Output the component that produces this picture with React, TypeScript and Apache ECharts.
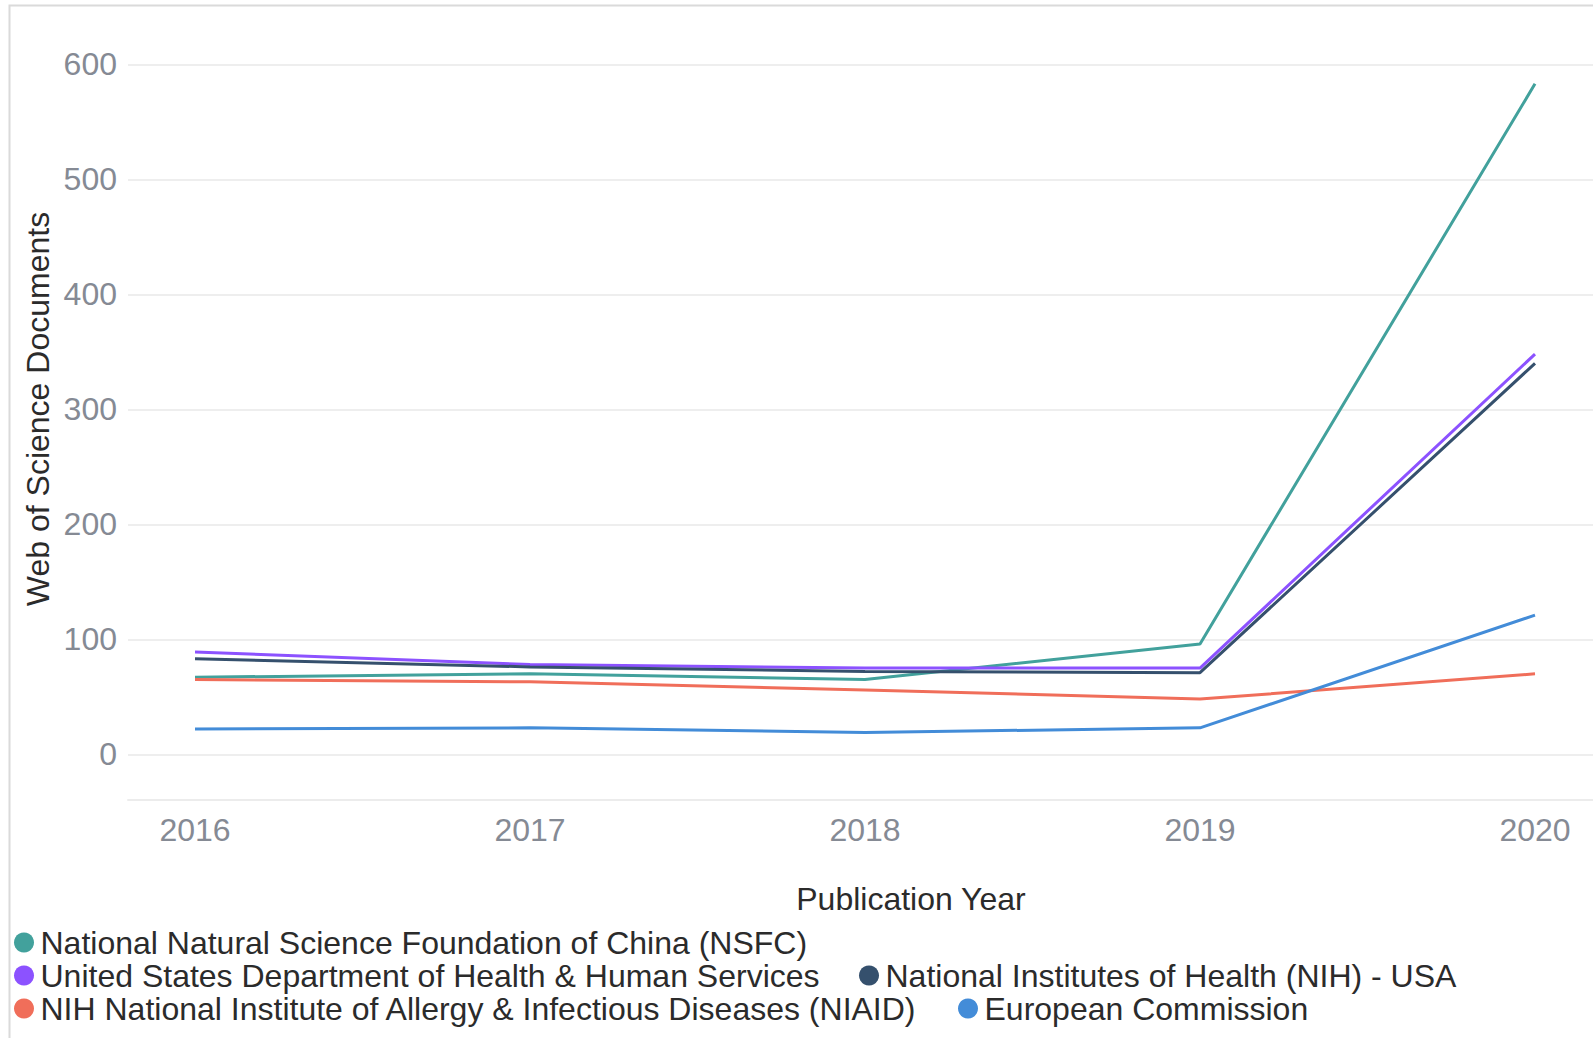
import React, { useEffect, useRef } from "react";
import * as echarts from "echarts";

const YEARS = [2016, 2017, 2018, 2019, 2020];
const NSFC = [67, 70, 65, 96, 583];
const HHS = [89, 78, 75, 75, 348];
const NIH = [83, 76, 72, 71, 340];
const NIAID = [65, 63, 56, 48, 70];
const EC = [22, 23, 19, 23, 121];
const Y_MIN = 0;
const Y_MAX = 600;
const Y_STEP = 100;

const SERIES_NAMES = [
  "National Natural Science Foundation of China (NSFC)",
  "United States Department of Health & Human Services",
  "National Institutes of Health (NIH) - USA",
  "NIH National Institute of Allergy & Infectious Diseases (NIAID)",
  "European Commission",
];
const SERIES_VALUES = [NSFC, HHS, NIH, NIAID, EC];
const COLORS = ["#42a19c", "#8c52ff", "#35506d", "#f06e5a", "#438cd8"];

const FONT = "'Liberation Sans', Arial, Helvetica, sans-serif";
const CHART_W = 1660;
const CHART_H = 1038;

// legend layout: [left, top] per series
const LEGEND_POS: [number, number][] = [
  [14, 926.5],
  [14, 959.5],
  [859, 959.5],
  [14, 992.5],
  [958, 992.5],
];

export default function App() {
  const ref = useRef<HTMLDivElement>(null);
  useEffect(() => {
    if (!ref.current) return;
    const chart = echarts.init(ref.current, undefined, { renderer: "svg" });
    const option: any = {
      animation: false,
      textStyle: { fontFamily: FONT },
      grid: { left: 128, right: CHART_W - 1602, top: 64.3, bottom: CHART_H - 754.3, containLabel: false },
      xAxis: {
        type: "value",
        min: 2015.8,
        max: 2020.2,
        offset: 45,
        axisLine: { show: true, onZero: false, lineStyle: { color: "#ececec", width: 2 } },
        axisTick: { show: false },
        splitLine: { show: false },
        axisLabel: {
          margin: 15,
          fontSize: 32,
          color: "#858a94",
          fontFamily: FONT,
          formatter: (v: number) => (Math.abs(v - Math.round(v)) < 1e-6 ? String(Math.round(v)) : ""),
        },
      },
      yAxis: {
        type: "value",
        min: Y_MIN,
        max: Y_MAX,
        interval: Y_STEP,
        axisLine: { show: false },
        axisTick: { show: false },
        splitLine: { show: true, lineStyle: { color: "#eeeeee", width: 2 } },
        axisLabel: { margin: 11, fontSize: 32, color: "#858a94", fontFamily: FONT },
      },
      legend: SERIES_NAMES.map((name, i) => ({
        data: [name],
        left: LEGEND_POS[i][0],
        top: LEGEND_POS[i][1],
        padding: 0,
        icon: "circle",
        itemWidth: 23,
        itemHeight: 20,
        selectedMode: false,
        textStyle: { fontSize: 32, lineHeight: 30, color: "#2b2b2b", fontFamily: FONT },
      })),
      graphic: [
        {
          type: "rect",
          shape: { x: 9.5, y: 5.5, width: 2000, height: 2000 },
          style: { fill: "none", stroke: "#dadada", lineWidth: 2 },
          silent: true,
        },
        {
          type: "text",
          x: 911,
          y: 898.5,
          style: {
            text: "Publication Year",
            fontSize: 32,
            fontFamily: FONT,
            fill: "#2b2b2b",
            textAlign: "center",
            textVerticalAlign: "middle",
          },
        },
        {
          type: "text",
          x: 38,
          y: 409,
          rotation: Math.PI / 2,
          style: {
            text: "Web of Science Documents",
            fontSize: 32,
            fontFamily: FONT,
            fill: "#2b2b2b",
            textAlign: "center",
            textVerticalAlign: "middle",
          },
        },
      ],
      series: SERIES_NAMES.map((name, i) => ({
        name,
        type: "line",
        symbol: "none",
        color: COLORS[i],
        lineStyle: { width: 3, color: COLORS[i] },
        data: YEARS.map((y, j) => [y, SERIES_VALUES[i][j]]),
      })),
    };
    chart.setOption(option);
    return () => chart.dispose();
  }, []);
  return (
    <div style={{ position: "fixed", left: 0, top: 0, width: 1593, height: 1038, overflow: "hidden", background: "#fff" }}>
      <div ref={ref} style={{ width: CHART_W, height: CHART_H }} />
    </div>
  );
}
